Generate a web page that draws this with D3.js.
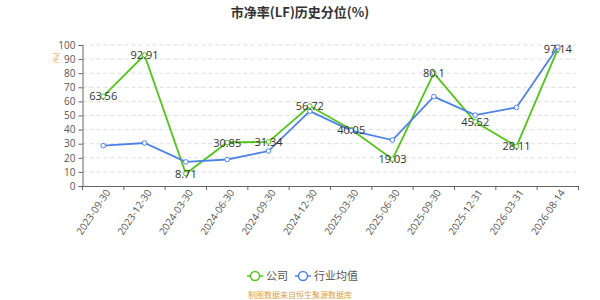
<!DOCTYPE html>
<html>
<head>
<meta charset="utf-8">
<script src="https://cdn.jsdelivr.net/npm/d3@7"></script>
<style>
  html, body { margin: 0; padding: 0; background: #fff; }
  svg { display: block; font-family: "Noto Sans CJK SC", "Noto Sans", sans-serif; }
</style>
</head>
<body>
<div id="chart"></div>
<script>
'use strict';

// Data
const dates = ['2023-09-30', '2023-12-30', '2024-03-30', '2024-06-30', '2024-09-30', '2024-12-30',
    '2025-03-30', '2025-06-30', '2025-09-30', '2025-12-31', '2026-03-31', '2026-08-14'];
const company = [63.56, 92.91, 8.71, 30.85, 31.34, 56.72, 40.05, 19.03, 80.1, 45.52, 28.11, 97.14];
const industry = [28.6, 30.5, 17.1, 18.8, 24.8, 53.1, 39.3, 32.6, 63.4, 50.3, 55.7, 98.6];
const yTicks = [0, 10, 20, 30, 40, 50, 60, 70, 80, 90, 100];

const W = 600, H = 300;
const margin = { left: 82.5, right: 21.5, top: 45, bottom: 114 };
const GREEN = '#52c41a', BLUE = '#4e82e6';

const svg = d3.select('#chart').append('svg').attr('width', W).attr('height', H);

const x = d3.scaleBand().domain(dates).range([margin.left, W - margin.right]);
const y = d3.scaleLinear().domain([0, 100]).range([H - margin.bottom, margin.top]);

// Title
svg.append('text').attr('x', 300).attr('y', 17).attr('text-anchor', 'middle')
    .attr('font-size', 13).attr('font-weight', 'bold').attr('fill', '#333').text('市净率(LF)历史分位(%)');

// Grid lines
svg.append('g').selectAll('line').data(yTicks.filter(d => d > 0)).join('line')
    .attr('x1', margin.left).attr('x2', W - margin.right)
    .attr('y1', d => y(d)).attr('y2', d => y(d))
    .attr('stroke', '#ddd').attr('stroke-dasharray', '4,3');

// Y axis
const yAxis = svg.append('g').attr('transform', `translate(${margin.left},0)`)
    .call(d3.axisLeft(y).tickValues(yTicks).tickSize(4).tickPadding(3));
yAxis.select('.domain').attr('stroke', '#666');
yAxis.selectAll('.tick line').attr('stroke', '#666');
yAxis.selectAll('text').attr('font-size', 10).attr('fill', '#555').attr('font-family', '"Open Sans", sans-serif');

svg.append('text').attr('transform', `translate(59,58) rotate(-90)`).attr('text-anchor', 'middle')
    .attr('font-size', 7).attr('fill', '#d9a04a').text('(%)');

// X axis
const xAxis = svg.append('g').attr('transform', `translate(0,${y(0)})`)
    .call(d3.axisBottom(x).tickSize(0).tickPadding(6));
xAxis.select('.domain').attr('stroke', '#666');
xAxis.selectAll('.tick text').attr('font-size', 10).attr('fill', '#555')
    .attr('font-family', '"Open Sans", sans-serif')
    .attr('text-anchor', 'end').attr('dx', '-0.1em').attr('dy', '0.4em')
    .attr('transform', 'rotate(-56)');
xAxis.selectAll('.bnd').data(dates.concat(['end'])).join('line')
    .attr('x1', (d, i) => margin.left + i * x.bandwidth())
    .attr('x2', (d, i) => margin.left + i * x.bandwidth())
    .attr('y1', 0).attr('y2', 4).attr('stroke', '#666');

const cx = d => x(d) + x.bandwidth() / 2;
const line = d3.line().x((d, i) => cx(dates[i])).y(d => y(d));

function drawSeries(vals, color) {
    svg.append('path').datum(vals).attr('d', line)
        .attr('fill', 'none').attr('stroke', color).attr('stroke-width', 1.8);
    svg.append('g').selectAll('circle').data(vals).join('circle')
        .attr('cx', (d, i) => cx(dates[i])).attr('cy', d => y(d)).attr('r', 2.3)
        .attr('fill', '#fff').attr('stroke', color).attr('stroke-width', 1);
}
drawSeries(company, GREEN);
drawSeries(industry, BLUE);

// Value labels for company series
svg.append('g').selectAll('text').data(company).join('text')
    .attr('x', (d, i) => cx(dates[i]))
    .attr('y', d => y(d) + 4)
    .attr('text-anchor', 'middle').attr('font-size', 11).attr('fill', '#333')
    .attr('font-family', '"Open Sans", sans-serif')
    .text(d => d);

// Legend
const lg = svg.append('g').attr('transform', 'translate(0,276)');
[[GREEN, '公司', 247], [BLUE, '行业均值', 295]].forEach(([c, t, lx]) => {
    lg.append('line').attr('x1', lx).attr('x2', lx + 16).attr('stroke', c).attr('stroke-width', 1.5);
    lg.append('circle').attr('cx', lx + 8).attr('r', 4.5).attr('fill', '#fff').attr('stroke', c).attr('stroke-width', 1.5);
    lg.append('text').attr('x', lx + 19).attr('y', 4).attr('font-size', 11).attr('fill', '#555').text(t);
});

// Source footer
svg.append('text').attr('x', 300).attr('y', 298).attr('text-anchor', 'middle')
    .attr('font-size', 8).attr('fill', '#d9a04a').text('制图数据来自恒生聚源数据库');
</script>
</body>
</html>
